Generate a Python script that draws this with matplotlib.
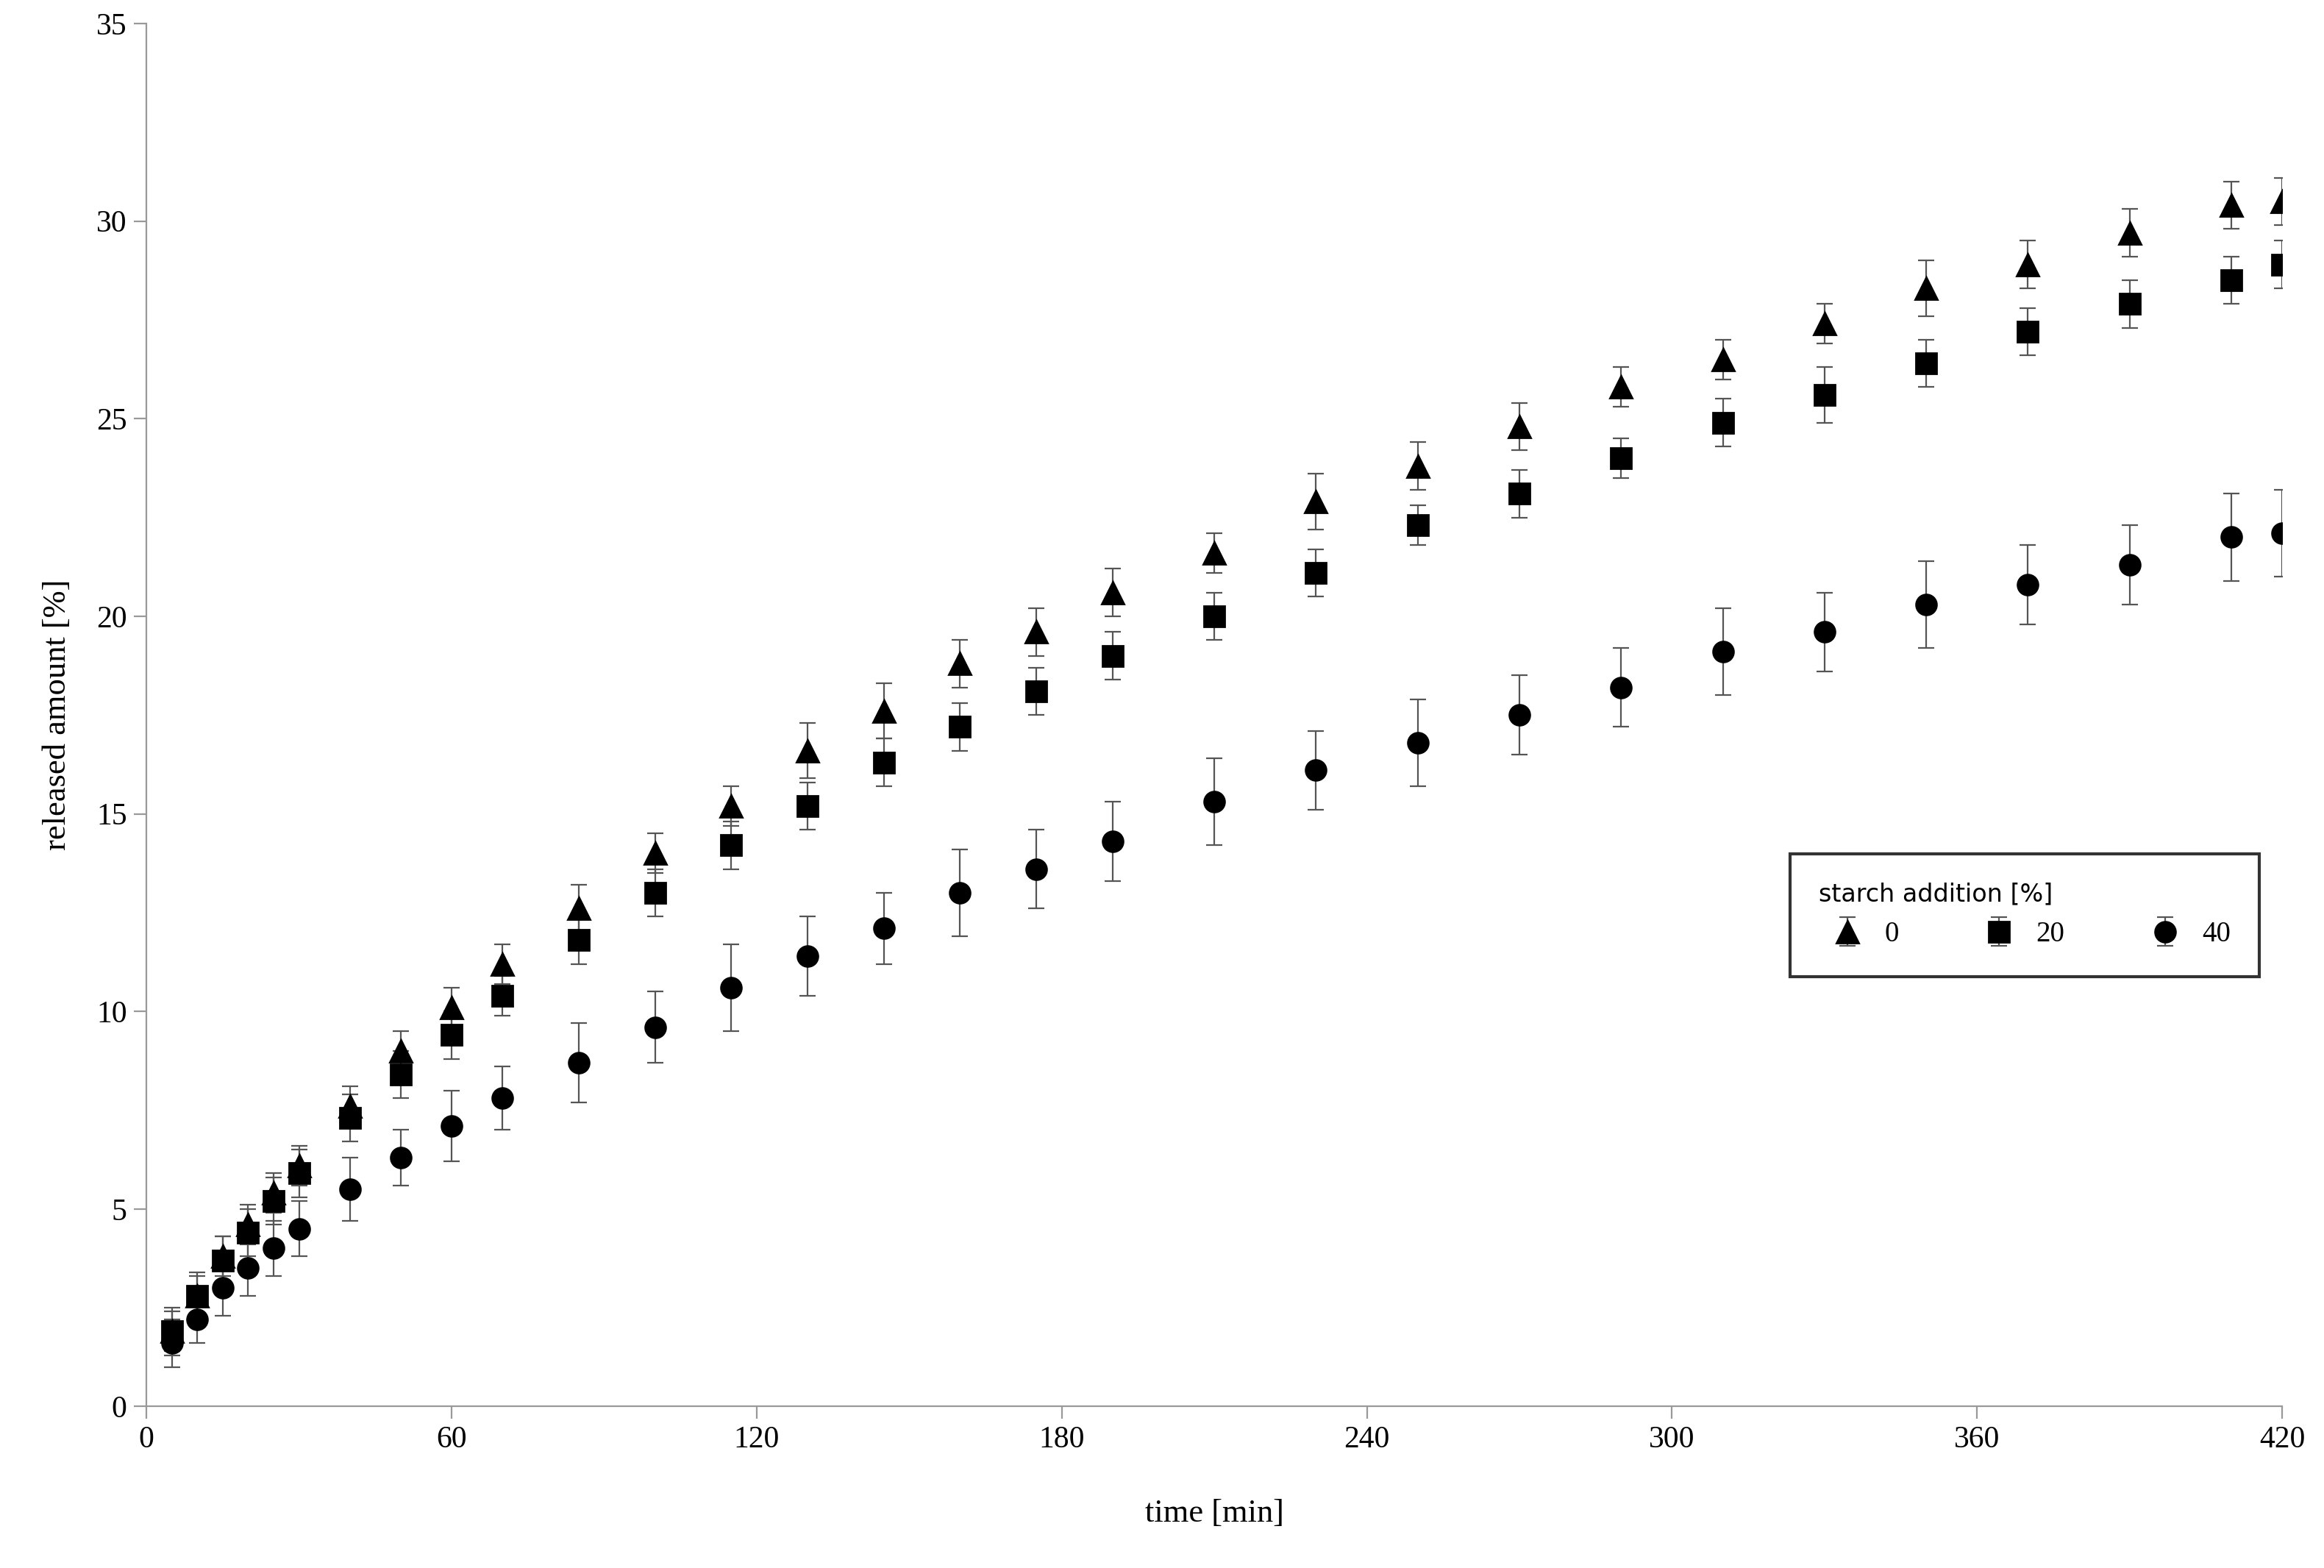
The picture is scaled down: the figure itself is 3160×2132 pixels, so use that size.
import matplotlib.pyplot as plt

plt.rcParams['font.family'] = ['Liberation Serif', 'DejaVu Serif']

time = [5, 10, 15, 20, 25, 30, 40, 50, 60, 70, 85, 100, 115, 130, 145, 160, 175, 190,
        210, 230, 250, 270, 290, 310, 330, 350, 370, 390, 410, 420]
s0 = [1.9, 2.8, 3.8, 4.6, 5.4, 6.1, 7.6, 9.0, 10.1, 11.2, 12.6, 14.0, 15.2, 16.6, 17.6,
      18.8, 19.6, 20.6, 21.6, 22.9, 23.8, 24.8, 25.8, 26.5, 27.4, 28.3, 28.9, 29.7, 30.4, 30.5]
s20 = [1.9, 2.8, 3.7, 4.4, 5.2, 5.9, 7.3, 8.4, 9.4, 10.4, 11.8, 13.0, 14.2, 15.2, 16.3,
       17.2, 18.1, 19.0, 20.0, 21.1, 22.3, 23.1, 24.0, 24.9, 25.6, 26.4, 27.2, 27.9, 28.5, 28.9]
s40 = [1.6, 2.2, 3.0, 3.5, 4.0, 4.5, 5.5, 6.3, 7.1, 7.8, 8.7, 9.6, 10.6, 11.4, 12.1,
       13.0, 13.6, 14.3, 15.3, 16.1, 16.8, 17.5, 18.2, 19.1, 19.6, 20.3, 20.8, 21.3, 22.0, 22.1]
e0 = [0.5, 0.5, 0.5, 0.5, 0.5, 0.5, 0.5, 0.5, 0.5, 0.5, 0.6, 0.5, 0.5, 0.7, 0.7,
      0.6, 0.6, 0.6, 0.5, 0.7, 0.6, 0.6, 0.5, 0.5, 0.5, 0.7, 0.6, 0.6, 0.6, 0.6]
e20 = [0.6, 0.6, 0.6, 0.6, 0.6, 0.6, 0.6, 0.6, 0.6, 0.5, 0.6, 0.6, 0.6, 0.6, 0.6,
       0.6, 0.6, 0.6, 0.6, 0.6, 0.5, 0.6, 0.5, 0.6, 0.7, 0.6, 0.6, 0.6, 0.6, 0.6]
e40 = [0.6, 0.6, 0.7, 0.7, 0.7, 0.7, 0.8, 0.7, 0.9, 0.8, 1.0, 0.9, 1.1, 1.0, 0.9,
       1.1, 1.0, 1.0, 1.1, 1.0, 1.1, 1.0, 1.0, 1.1, 1.0, 1.1, 1.0, 1.0, 1.1, 1.1]

fig = plt.figure(figsize=(15.8, 10.66), dpi=200)
ax = fig.add_axes([0.063, 0.103, 0.919, 0.882])

ax.errorbar(time, s0, yerr=e0, fmt='^', color='black', ms=11, ecolor='#555555',
            elinewidth=0.8, capsize=4, capthick=0.8, label='0')
ax.errorbar(time, s20, yerr=e20, fmt='s', color='black', ms=10, ecolor='#555555',
            elinewidth=0.8, capsize=4, capthick=0.8, label='20')
ax.errorbar(time, s40, yerr=e40, fmt='o', color='black', ms=10, ecolor='#555555',
            elinewidth=0.8, capsize=4, capthick=0.8, label='40')

ax.set_xlim(0, 420)
ax.set_ylim(0, 35)
ax.set_xticks(range(0, 421, 60))
ax.set_yticks(range(0, 36, 5))
for s in ['top', 'right']:
    ax.spines[s].set_visible(False)
for s in ['left', 'bottom']:
    ax.spines[s].set_color('#999999')
ax.tick_params(direction='out', length=6, color='#999999', labelsize=15)
ax.set_xlabel('time [min]', fontsize=16, labelpad=22)
ax.set_ylabel('released amount [%]', fontsize=16, labelpad=12)

leg = ax.legend(ncol=3, loc='upper left', bbox_to_anchor=(0.763, 0.41),
                title='starch addition [%]', fontsize=14, frameon=True,
                fancybox=False, edgecolor='black', handletextpad=0.3,
                columnspacing=2.5, borderpad=1.0, alignment='left')
leg.get_title().set_fontfamily('DejaVu Sans')
leg.get_title().set_fontsize(12)
leg.get_frame().set_linewidth(1.5)

fig.savefig('out.png', dpi=200)
